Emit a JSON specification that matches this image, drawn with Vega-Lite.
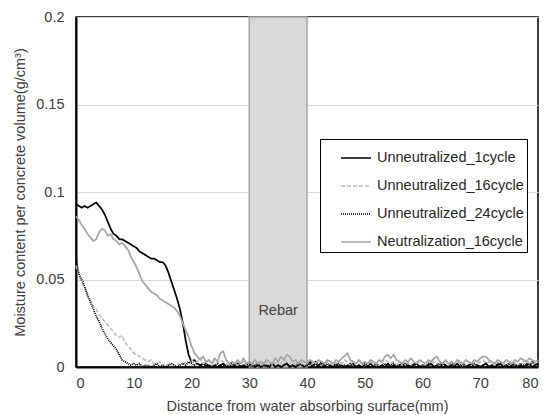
{
  "$schema": "https://vega.github.io/schema/vega-lite/v6.json",
  "width": 462,
  "height": 350,
  "autosize": "none",
  "padding": {"left": 76, "top": 17, "right": 9, "bottom": 48},
  "background": "#ffffff",
  "config": {
    "font": "Liberation Sans",
    "view": {"stroke": "#000000", "strokeWidth": 1.5},
    "axis": {
      "labelFont": "Liberation Sans", "labelFontSize": 14.5, "labelColor": "#404040",
      "titleFont": "Liberation Sans", "titleFontSize": 14.5, "titleFontWeight": "normal", "titleColor": "#404040",
      "ticks": false, "domainColor": "#000000", "domainWidth": 2,
      "gridColor": "#d9d9d9", "gridWidth": 1
    }
  },
  "encoding": {
    "x": {"field": "x", "type": "quantitative", "scale": {"domain": [0, 80], "nice": false},
      "axis": {"title": "Distance from water absorbing surface(mm)", "values": [0, 10, 20, 30, 40, 50, 60, 70, 80], "grid": false, "labelPadding": 9, "titlePadding": 10}},
    "y": {"field": "moisture", "type": "quantitative", "scale": {"domain": [0, 0.2], "nice": false},
      "axis": {"title": "Moisture content per concrete volume(g/cm³)", "values": [0, 0.05, 0.1, 0.15, 0.2], "format": "~g", "labelPadding": 12, "titlePadding": 8}}
  },
  "layer": [
    {
      "data": {"values": [{"x": 30, "x2": 40, "moisture": 0, "m2": 0.2}]},
      "mark": {"type": "rect", "fill": "#d9d9d9", "stroke": "#a6a6a6", "strokeWidth": 1.5},
      "encoding": {"x2": {"field": "x2"}, "y2": {"field": "m2"}}
    },
    {
      "data": {"values": [
        {"x":0,"Unneutralized_1cycle":0.093,"Unneutralized_16cycle":0.058,"Unneutralized_24cycle":0.062,"Neutralization_16cycle":0.086},
        {"x":0.5,"Unneutralized_1cycle":0.092,"Unneutralized_16cycle":0.052,"Unneutralized_24cycle":0.053,"Neutralization_16cycle":0.084},
        {"x":1,"Unneutralized_1cycle":0.091,"Unneutralized_16cycle":0.048,"Unneutralized_24cycle":0.050,"Neutralization_16cycle":0.081},
        {"x":1.5,"Unneutralized_1cycle":0.092,"Unneutralized_16cycle":0.045,"Unneutralized_24cycle":0.046,"Neutralization_16cycle":0.079},
        {"x":2,"Unneutralized_1cycle":0.091,"Unneutralized_16cycle":0.041,"Unneutralized_24cycle":0.041,"Neutralization_16cycle":0.076},
        {"x":2.5,"Unneutralized_1cycle":0.092,"Unneutralized_16cycle":0.038,"Unneutralized_24cycle":0.037,"Neutralization_16cycle":0.074},
        {"x":3,"Unneutralized_1cycle":0.093,"Unneutralized_16cycle":0.035,"Unneutralized_24cycle":0.033,"Neutralization_16cycle":0.072},
        {"x":3.5,"Unneutralized_1cycle":0.094,"Unneutralized_16cycle":0.033,"Unneutralized_24cycle":0.029,"Neutralization_16cycle":0.073},
        {"x":4,"Unneutralized_1cycle":0.092,"Unneutralized_16cycle":0.030,"Unneutralized_24cycle":0.026,"Neutralization_16cycle":0.077},
        {"x":4.5,"Unneutralized_1cycle":0.090,"Unneutralized_16cycle":0.028,"Unneutralized_24cycle":0.022,"Neutralization_16cycle":0.079},
        {"x":5,"Unneutralized_1cycle":0.087,"Unneutralized_16cycle":0.026,"Unneutralized_24cycle":0.019,"Neutralization_16cycle":0.078},
        {"x":5.5,"Unneutralized_1cycle":0.083,"Unneutralized_16cycle":0.024,"Unneutralized_24cycle":0.016,"Neutralization_16cycle":0.075},
        {"x":6,"Unneutralized_1cycle":0.079,"Unneutralized_16cycle":0.022,"Unneutralized_24cycle":0.014,"Neutralization_16cycle":0.076},
        {"x":6.5,"Unneutralized_1cycle":0.076,"Unneutralized_16cycle":0.020,"Unneutralized_24cycle":0.012,"Neutralization_16cycle":0.073},
        {"x":7,"Unneutralized_1cycle":0.075,"Unneutralized_16cycle":0.018,"Unneutralized_24cycle":0.010,"Neutralization_16cycle":0.072},
        {"x":7.5,"Unneutralized_1cycle":0.073,"Unneutralized_16cycle":0.017,"Unneutralized_24cycle":0.007,"Neutralization_16cycle":0.070},
        {"x":8,"Unneutralized_1cycle":0.073,"Unneutralized_16cycle":0.018,"Unneutralized_24cycle":0.004,"Neutralization_16cycle":0.071},
        {"x":8.5,"Unneutralized_1cycle":0.072,"Unneutralized_16cycle":0.014,"Unneutralized_24cycle":0.003,"Neutralization_16cycle":0.069},
        {"x":9,"Unneutralized_1cycle":0.071,"Unneutralized_16cycle":0.012,"Unneutralized_24cycle":0.002,"Neutralization_16cycle":0.067},
        {"x":9.5,"Unneutralized_1cycle":0.070,"Unneutralized_16cycle":0.010,"Unneutralized_24cycle":0.001,"Neutralization_16cycle":0.063},
        {"x":10,"Unneutralized_1cycle":0.069,"Unneutralized_16cycle":0.008,"Unneutralized_24cycle":0.002,"Neutralization_16cycle":0.060},
        {"x":10.5,"Unneutralized_1cycle":0.068,"Unneutralized_16cycle":0.007,"Unneutralized_24cycle":0.001,"Neutralization_16cycle":0.057},
        {"x":11,"Unneutralized_1cycle":0.066,"Unneutralized_16cycle":0.006,"Unneutralized_24cycle":0.002,"Neutralization_16cycle":0.053},
        {"x":11.5,"Unneutralized_1cycle":0.065,"Unneutralized_16cycle":0.005,"Unneutralized_24cycle":0.000,"Neutralization_16cycle":0.049},
        {"x":12,"Unneutralized_1cycle":0.064,"Unneutralized_16cycle":0.004,"Unneutralized_24cycle":0.001,"Neutralization_16cycle":0.047},
        {"x":12.5,"Unneutralized_1cycle":0.063,"Unneutralized_16cycle":0.003,"Unneutralized_24cycle":0.001,"Neutralization_16cycle":0.045},
        {"x":13,"Unneutralized_1cycle":0.062,"Unneutralized_16cycle":0.004,"Unneutralized_24cycle":0.000,"Neutralization_16cycle":0.043},
        {"x":13.5,"Unneutralized_1cycle":0.062,"Unneutralized_16cycle":0.002,"Unneutralized_24cycle":0.001,"Neutralization_16cycle":0.042},
        {"x":14,"Unneutralized_1cycle":0.061,"Unneutralized_16cycle":0.002,"Unneutralized_24cycle":0.002,"Neutralization_16cycle":0.041},
        {"x":14.5,"Unneutralized_1cycle":0.060,"Unneutralized_16cycle":0.003,"Unneutralized_24cycle":0.000,"Neutralization_16cycle":0.039},
        {"x":15,"Unneutralized_1cycle":0.060,"Unneutralized_16cycle":0.001,"Unneutralized_24cycle":0.001,"Neutralization_16cycle":0.038},
        {"x":15.5,"Unneutralized_1cycle":0.058,"Unneutralized_16cycle":0.002,"Unneutralized_24cycle":0.000,"Neutralization_16cycle":0.037},
        {"x":16,"Unneutralized_1cycle":0.054,"Unneutralized_16cycle":0.001,"Unneutralized_24cycle":0.001,"Neutralization_16cycle":0.036},
        {"x":16.5,"Unneutralized_1cycle":0.049,"Unneutralized_16cycle":0.002,"Unneutralized_24cycle":0.002,"Neutralization_16cycle":0.035},
        {"x":17,"Unneutralized_1cycle":0.044,"Unneutralized_16cycle":0.001,"Unneutralized_24cycle":0.001,"Neutralization_16cycle":0.034},
        {"x":17.5,"Unneutralized_1cycle":0.039,"Unneutralized_16cycle":0.002,"Unneutralized_24cycle":0.000,"Neutralization_16cycle":0.032},
        {"x":18,"Unneutralized_1cycle":0.033,"Unneutralized_16cycle":0.001,"Unneutralized_24cycle":0.001,"Neutralization_16cycle":0.029},
        {"x":18.5,"Unneutralized_1cycle":0.025,"Unneutralized_16cycle":0.002,"Unneutralized_24cycle":0.002,"Neutralization_16cycle":0.025},
        {"x":19,"Unneutralized_1cycle":0.015,"Unneutralized_16cycle":0.003,"Unneutralized_24cycle":0.001,"Neutralization_16cycle":0.021},
        {"x":19.5,"Unneutralized_1cycle":0.007,"Unneutralized_16cycle":0.002,"Unneutralized_24cycle":0.003,"Neutralization_16cycle":0.017},
        {"x":20,"Unneutralized_1cycle":0.003,"Unneutralized_16cycle":0.004,"Unneutralized_24cycle":0.002,"Neutralization_16cycle":0.012},
        {"x":20.5,"Unneutralized_1cycle":0.004,"Unneutralized_16cycle":0.002,"Unneutralized_24cycle":0.001,"Neutralization_16cycle":0.008},
        {"x":21,"Unneutralized_1cycle":0.002,"Unneutralized_16cycle":0.003,"Unneutralized_24cycle":0.002,"Neutralization_16cycle":0.006},
        {"x":21.5,"Unneutralized_1cycle":0.001,"Unneutralized_16cycle":0.005,"Unneutralized_24cycle":0.001,"Neutralization_16cycle":0.004},
        {"x":22,"Unneutralized_1cycle":0.002,"Unneutralized_16cycle":0.002,"Unneutralized_24cycle":0.000,"Neutralization_16cycle":0.006},
        {"x":22.5,"Unneutralized_1cycle":0.001,"Unneutralized_16cycle":0.003,"Unneutralized_24cycle":0.002,"Neutralization_16cycle":0.003},
        {"x":23,"Unneutralized_1cycle":0.001,"Unneutralized_16cycle":0.004,"Unneutralized_24cycle":0.001,"Neutralization_16cycle":0.004},
        {"x":23.5,"Unneutralized_1cycle":0.000,"Unneutralized_16cycle":0.002,"Unneutralized_24cycle":0.000,"Neutralization_16cycle":0.002},
        {"x":24,"Unneutralized_1cycle":0.001,"Unneutralized_16cycle":0.003,"Unneutralized_24cycle":0.001,"Neutralization_16cycle":0.005},
        {"x":24.5,"Unneutralized_1cycle":0.000,"Unneutralized_16cycle":0.002,"Unneutralized_24cycle":0.002,"Neutralization_16cycle":0.003},
        {"x":25,"Unneutralized_1cycle":0.001,"Unneutralized_16cycle":0.004,"Unneutralized_24cycle":0.000,"Neutralization_16cycle":0.008},
        {"x":25.5,"Unneutralized_1cycle":0.002,"Unneutralized_16cycle":0.003,"Unneutralized_24cycle":0.001,"Neutralization_16cycle":0.009},
        {"x":26,"Unneutralized_1cycle":0.000,"Unneutralized_16cycle":0.002,"Unneutralized_24cycle":0.001,"Neutralization_16cycle":0.004},
        {"x":26.5,"Unneutralized_1cycle":0.001,"Unneutralized_16cycle":0.001,"Unneutralized_24cycle":0.000,"Neutralization_16cycle":0.002},
        {"x":27,"Unneutralized_1cycle":0.000,"Unneutralized_16cycle":0.003,"Unneutralized_24cycle":0.002,"Neutralization_16cycle":0.003},
        {"x":27.5,"Unneutralized_1cycle":0.001,"Unneutralized_16cycle":0.002,"Unneutralized_24cycle":0.001,"Neutralization_16cycle":0.002},
        {"x":28,"Unneutralized_1cycle":0.002,"Unneutralized_16cycle":0.001,"Unneutralized_24cycle":0.000,"Neutralization_16cycle":0.004},
        {"x":28.5,"Unneutralized_1cycle":0.000,"Unneutralized_16cycle":0.002,"Unneutralized_24cycle":0.001,"Neutralization_16cycle":0.002},
        {"x":29,"Unneutralized_1cycle":0.001,"Unneutralized_16cycle":0.003,"Unneutralized_24cycle":0.000,"Neutralization_16cycle":0.005},
        {"x":29.5,"Unneutralized_1cycle":0.000,"Unneutralized_16cycle":0.002,"Unneutralized_24cycle":0.002,"Neutralization_16cycle":0.002},
        {"x":30,"Unneutralized_1cycle":0.001,"Unneutralized_16cycle":0.001,"Unneutralized_24cycle":0.001,"Neutralization_16cycle":0.003},
        {"x":30.5,"Unneutralized_1cycle":0.002,"Unneutralized_16cycle":0.002,"Unneutralized_24cycle":0.000,"Neutralization_16cycle":0.002},
        {"x":31,"Unneutralized_1cycle":0.000,"Unneutralized_16cycle":0.001,"Unneutralized_24cycle":0.001,"Neutralization_16cycle":0.004},
        {"x":31.5,"Unneutralized_1cycle":0.001,"Unneutralized_16cycle":0.003,"Unneutralized_24cycle":0.002,"Neutralization_16cycle":0.002},
        {"x":32,"Unneutralized_1cycle":0.000,"Unneutralized_16cycle":0.002,"Unneutralized_24cycle":0.000,"Neutralization_16cycle":0.003},
        {"x":32.5,"Unneutralized_1cycle":0.001,"Unneutralized_16cycle":0.001,"Unneutralized_24cycle":0.001,"Neutralization_16cycle":0.002},
        {"x":33,"Unneutralized_1cycle":0.001,"Unneutralized_16cycle":0.002,"Unneutralized_24cycle":0.000,"Neutralization_16cycle":0.004},
        {"x":33.5,"Unneutralized_1cycle":0.000,"Unneutralized_16cycle":0.003,"Unneutralized_24cycle":0.001,"Neutralization_16cycle":0.003},
        {"x":34,"Unneutralized_1cycle":0.002,"Unneutralized_16cycle":0.001,"Unneutralized_24cycle":0.002,"Neutralization_16cycle":0.002},
        {"x":34.5,"Unneutralized_1cycle":0.000,"Unneutralized_16cycle":0.002,"Unneutralized_24cycle":0.000,"Neutralization_16cycle":0.005},
        {"x":35,"Unneutralized_1cycle":0.001,"Unneutralized_16cycle":0.003,"Unneutralized_24cycle":0.001,"Neutralization_16cycle":0.003},
        {"x":35.5,"Unneutralized_1cycle":0.000,"Unneutralized_16cycle":0.002,"Unneutralized_24cycle":0.000,"Neutralization_16cycle":0.006},
        {"x":36,"Unneutralized_1cycle":0.001,"Unneutralized_16cycle":0.004,"Unneutralized_24cycle":0.001,"Neutralization_16cycle":0.004},
        {"x":36.5,"Unneutralized_1cycle":0.002,"Unneutralized_16cycle":0.003,"Unneutralized_24cycle":0.002,"Neutralization_16cycle":0.007},
        {"x":37,"Unneutralized_1cycle":0.000,"Unneutralized_16cycle":0.002,"Unneutralized_24cycle":0.000,"Neutralization_16cycle":0.006},
        {"x":37.5,"Unneutralized_1cycle":0.001,"Unneutralized_16cycle":0.001,"Unneutralized_24cycle":0.001,"Neutralization_16cycle":0.003},
        {"x":38,"Unneutralized_1cycle":0.000,"Unneutralized_16cycle":0.002,"Unneutralized_24cycle":0.000,"Neutralization_16cycle":0.004},
        {"x":38.5,"Unneutralized_1cycle":0.001,"Unneutralized_16cycle":0.003,"Unneutralized_24cycle":0.002,"Neutralization_16cycle":0.002},
        {"x":39,"Unneutralized_1cycle":0.002,"Unneutralized_16cycle":0.002,"Unneutralized_24cycle":0.001,"Neutralization_16cycle":0.004},
        {"x":39.5,"Unneutralized_1cycle":0.000,"Unneutralized_16cycle":0.001,"Unneutralized_24cycle":0.000,"Neutralization_16cycle":0.003},
        {"x":40,"Unneutralized_1cycle":0.001,"Unneutralized_16cycle":0.002,"Unneutralized_24cycle":0.001,"Neutralization_16cycle":0.002},
        {"x":40.5,"Unneutralized_1cycle":0.003,"Unneutralized_16cycle":0.001,"Unneutralized_24cycle":0.002,"Neutralization_16cycle":0.004},
        {"x":41,"Unneutralized_1cycle":0.001,"Unneutralized_16cycle":0.002,"Unneutralized_24cycle":0.000,"Neutralization_16cycle":0.003},
        {"x":41.5,"Unneutralized_1cycle":0.002,"Unneutralized_16cycle":0.003,"Unneutralized_24cycle":0.003,"Neutralization_16cycle":0.002},
        {"x":42,"Unneutralized_1cycle":0.000,"Unneutralized_16cycle":0.002,"Unneutralized_24cycle":0.001,"Neutralization_16cycle":0.004},
        {"x":42.5,"Unneutralized_1cycle":0.003,"Unneutralized_16cycle":0.001,"Unneutralized_24cycle":0.002,"Neutralization_16cycle":0.003},
        {"x":43,"Unneutralized_1cycle":0.001,"Unneutralized_16cycle":0.002,"Unneutralized_24cycle":0.000,"Neutralization_16cycle":0.002},
        {"x":43.5,"Unneutralized_1cycle":0.000,"Unneutralized_16cycle":0.003,"Unneutralized_24cycle":0.002,"Neutralization_16cycle":0.004},
        {"x":44,"Unneutralized_1cycle":0.001,"Unneutralized_16cycle":0.002,"Unneutralized_24cycle":0.001,"Neutralization_16cycle":0.003},
        {"x":44.5,"Unneutralized_1cycle":0.000,"Unneutralized_16cycle":0.001,"Unneutralized_24cycle":0.000,"Neutralization_16cycle":0.002},
        {"x":45,"Unneutralized_1cycle":0.002,"Unneutralized_16cycle":0.002,"Unneutralized_24cycle":0.001,"Neutralization_16cycle":0.004},
        {"x":45.5,"Unneutralized_1cycle":0.000,"Unneutralized_16cycle":0.003,"Unneutralized_24cycle":0.002,"Neutralization_16cycle":0.003},
        {"x":46,"Unneutralized_1cycle":0.001,"Unneutralized_16cycle":0.002,"Unneutralized_24cycle":0.000,"Neutralization_16cycle":0.005},
        {"x":46.5,"Unneutralized_1cycle":0.000,"Unneutralized_16cycle":0.004,"Unneutralized_24cycle":0.001,"Neutralization_16cycle":0.006},
        {"x":47,"Unneutralized_1cycle":0.001,"Unneutralized_16cycle":0.003,"Unneutralized_24cycle":0.000,"Neutralization_16cycle":0.008},
        {"x":47.5,"Unneutralized_1cycle":0.000,"Unneutralized_16cycle":0.002,"Unneutralized_24cycle":0.002,"Neutralization_16cycle":0.004},
        {"x":48,"Unneutralized_1cycle":0.002,"Unneutralized_16cycle":0.001,"Unneutralized_24cycle":0.001,"Neutralization_16cycle":0.003},
        {"x":48.5,"Unneutralized_1cycle":0.000,"Unneutralized_16cycle":0.002,"Unneutralized_24cycle":0.000,"Neutralization_16cycle":0.002},
        {"x":49,"Unneutralized_1cycle":0.001,"Unneutralized_16cycle":0.003,"Unneutralized_24cycle":0.001,"Neutralization_16cycle":0.004},
        {"x":49.5,"Unneutralized_1cycle":0.000,"Unneutralized_16cycle":0.002,"Unneutralized_24cycle":0.000,"Neutralization_16cycle":0.002},
        {"x":50,"Unneutralized_1cycle":0.001,"Unneutralized_16cycle":0.001,"Unneutralized_24cycle":0.002,"Neutralization_16cycle":0.003},
        {"x":50.5,"Unneutralized_1cycle":0.000,"Unneutralized_16cycle":0.002,"Unneutralized_24cycle":0.001,"Neutralization_16cycle":0.002},
        {"x":51,"Unneutralized_1cycle":0.002,"Unneutralized_16cycle":0.003,"Unneutralized_24cycle":0.000,"Neutralization_16cycle":0.004},
        {"x":51.5,"Unneutralized_1cycle":0.000,"Unneutralized_16cycle":0.002,"Unneutralized_24cycle":0.001,"Neutralization_16cycle":0.003},
        {"x":52,"Unneutralized_1cycle":0.001,"Unneutralized_16cycle":0.001,"Unneutralized_24cycle":0.002,"Neutralization_16cycle":0.002},
        {"x":52.5,"Unneutralized_1cycle":0.000,"Unneutralized_16cycle":0.002,"Unneutralized_24cycle":0.000,"Neutralization_16cycle":0.004},
        {"x":53,"Unneutralized_1cycle":0.001,"Unneutralized_16cycle":0.003,"Unneutralized_24cycle":0.001,"Neutralization_16cycle":0.003},
        {"x":53.5,"Unneutralized_1cycle":0.000,"Unneutralized_16cycle":0.004,"Unneutralized_24cycle":0.002,"Neutralization_16cycle":0.006},
        {"x":54,"Unneutralized_1cycle":0.002,"Unneutralized_16cycle":0.003,"Unneutralized_24cycle":0.000,"Neutralization_16cycle":0.007},
        {"x":54.5,"Unneutralized_1cycle":0.000,"Unneutralized_16cycle":0.002,"Unneutralized_24cycle":0.001,"Neutralization_16cycle":0.005},
        {"x":55,"Unneutralized_1cycle":0.001,"Unneutralized_16cycle":0.003,"Unneutralized_24cycle":0.002,"Neutralization_16cycle":0.007},
        {"x":55.5,"Unneutralized_1cycle":0.000,"Unneutralized_16cycle":0.002,"Unneutralized_24cycle":0.000,"Neutralization_16cycle":0.004},
        {"x":56,"Unneutralized_1cycle":0.001,"Unneutralized_16cycle":0.001,"Unneutralized_24cycle":0.001,"Neutralization_16cycle":0.003},
        {"x":56.5,"Unneutralized_1cycle":0.002,"Unneutralized_16cycle":0.002,"Unneutralized_24cycle":0.000,"Neutralization_16cycle":0.002},
        {"x":57,"Unneutralized_1cycle":0.000,"Unneutralized_16cycle":0.003,"Unneutralized_24cycle":0.002,"Neutralization_16cycle":0.004},
        {"x":57.5,"Unneutralized_1cycle":0.001,"Unneutralized_16cycle":0.002,"Unneutralized_24cycle":0.001,"Neutralization_16cycle":0.003},
        {"x":58,"Unneutralized_1cycle":0.000,"Unneutralized_16cycle":0.001,"Unneutralized_24cycle":0.000,"Neutralization_16cycle":0.005},
        {"x":58.5,"Unneutralized_1cycle":0.001,"Unneutralized_16cycle":0.002,"Unneutralized_24cycle":0.002,"Neutralization_16cycle":0.003},
        {"x":59,"Unneutralized_1cycle":0.002,"Unneutralized_16cycle":0.003,"Unneutralized_24cycle":0.001,"Neutralization_16cycle":0.002},
        {"x":59.5,"Unneutralized_1cycle":0.000,"Unneutralized_16cycle":0.002,"Unneutralized_24cycle":0.000,"Neutralization_16cycle":0.004},
        {"x":60,"Unneutralized_1cycle":0.001,"Unneutralized_16cycle":0.001,"Unneutralized_24cycle":0.001,"Neutralization_16cycle":0.003},
        {"x":60.5,"Unneutralized_1cycle":0.000,"Unneutralized_16cycle":0.002,"Unneutralized_24cycle":0.000,"Neutralization_16cycle":0.002},
        {"x":61,"Unneutralized_1cycle":0.001,"Unneutralized_16cycle":0.003,"Unneutralized_24cycle":0.002,"Neutralization_16cycle":0.004},
        {"x":61.5,"Unneutralized_1cycle":0.002,"Unneutralized_16cycle":0.002,"Unneutralized_24cycle":0.001,"Neutralization_16cycle":0.003},
        {"x":62,"Unneutralized_1cycle":0.000,"Unneutralized_16cycle":0.003,"Unneutralized_24cycle":0.000,"Neutralization_16cycle":0.005},
        {"x":62.5,"Unneutralized_1cycle":0.001,"Unneutralized_16cycle":0.002,"Unneutralized_24cycle":0.001,"Neutralization_16cycle":0.006},
        {"x":63,"Unneutralized_1cycle":0.000,"Unneutralized_16cycle":0.001,"Unneutralized_24cycle":0.002,"Neutralization_16cycle":0.003},
        {"x":63.5,"Unneutralized_1cycle":0.002,"Unneutralized_16cycle":0.002,"Unneutralized_24cycle":0.000,"Neutralization_16cycle":0.002},
        {"x":64,"Unneutralized_1cycle":0.001,"Unneutralized_16cycle":0.003,"Unneutralized_24cycle":0.001,"Neutralization_16cycle":0.004},
        {"x":64.5,"Unneutralized_1cycle":0.000,"Unneutralized_16cycle":0.002,"Unneutralized_24cycle":0.000,"Neutralization_16cycle":0.002},
        {"x":65,"Unneutralized_1cycle":0.001,"Unneutralized_16cycle":0.001,"Unneutralized_24cycle":0.002,"Neutralization_16cycle":0.003},
        {"x":65.5,"Unneutralized_1cycle":0.000,"Unneutralized_16cycle":0.002,"Unneutralized_24cycle":0.001,"Neutralization_16cycle":0.002},
        {"x":66,"Unneutralized_1cycle":0.002,"Unneutralized_16cycle":0.003,"Unneutralized_24cycle":0.000,"Neutralization_16cycle":0.004},
        {"x":66.5,"Unneutralized_1cycle":0.000,"Unneutralized_16cycle":0.002,"Unneutralized_24cycle":0.001,"Neutralization_16cycle":0.003},
        {"x":67,"Unneutralized_1cycle":0.001,"Unneutralized_16cycle":0.001,"Unneutralized_24cycle":0.002,"Neutralization_16cycle":0.002},
        {"x":67.5,"Unneutralized_1cycle":0.000,"Unneutralized_16cycle":0.002,"Unneutralized_24cycle":0.000,"Neutralization_16cycle":0.004},
        {"x":68,"Unneutralized_1cycle":0.001,"Unneutralized_16cycle":0.003,"Unneutralized_24cycle":0.001,"Neutralization_16cycle":0.003},
        {"x":68.5,"Unneutralized_1cycle":0.002,"Unneutralized_16cycle":0.002,"Unneutralized_24cycle":0.000,"Neutralization_16cycle":0.002},
        {"x":69,"Unneutralized_1cycle":0.000,"Unneutralized_16cycle":0.001,"Unneutralized_24cycle":0.002,"Neutralization_16cycle":0.004},
        {"x":69.5,"Unneutralized_1cycle":0.001,"Unneutralized_16cycle":0.002,"Unneutralized_24cycle":0.001,"Neutralization_16cycle":0.003},
        {"x":70,"Unneutralized_1cycle":0.000,"Unneutralized_16cycle":0.003,"Unneutralized_24cycle":0.000,"Neutralization_16cycle":0.005},
        {"x":70.5,"Unneutralized_1cycle":0.001,"Unneutralized_16cycle":0.004,"Unneutralized_24cycle":0.001,"Neutralization_16cycle":0.006},
        {"x":71,"Unneutralized_1cycle":0.002,"Unneutralized_16cycle":0.002,"Unneutralized_24cycle":0.002,"Neutralization_16cycle":0.006},
        {"x":71.5,"Unneutralized_1cycle":0.000,"Unneutralized_16cycle":0.003,"Unneutralized_24cycle":0.000,"Neutralization_16cycle":0.004},
        {"x":72,"Unneutralized_1cycle":0.001,"Unneutralized_16cycle":0.002,"Unneutralized_24cycle":0.001,"Neutralization_16cycle":0.003},
        {"x":72.5,"Unneutralized_1cycle":0.000,"Unneutralized_16cycle":0.001,"Unneutralized_24cycle":0.000,"Neutralization_16cycle":0.002},
        {"x":73,"Unneutralized_1cycle":0.001,"Unneutralized_16cycle":0.002,"Unneutralized_24cycle":0.002,"Neutralization_16cycle":0.004},
        {"x":73.5,"Unneutralized_1cycle":0.002,"Unneutralized_16cycle":0.003,"Unneutralized_24cycle":0.001,"Neutralization_16cycle":0.003},
        {"x":74,"Unneutralized_1cycle":0.000,"Unneutralized_16cycle":0.002,"Unneutralized_24cycle":0.000,"Neutralization_16cycle":0.002},
        {"x":74.5,"Unneutralized_1cycle":0.001,"Unneutralized_16cycle":0.001,"Unneutralized_24cycle":0.001,"Neutralization_16cycle":0.004},
        {"x":75,"Unneutralized_1cycle":0.000,"Unneutralized_16cycle":0.002,"Unneutralized_24cycle":0.002,"Neutralization_16cycle":0.003},
        {"x":75.5,"Unneutralized_1cycle":0.001,"Unneutralized_16cycle":0.003,"Unneutralized_24cycle":0.000,"Neutralization_16cycle":0.002},
        {"x":76,"Unneutralized_1cycle":0.002,"Unneutralized_16cycle":0.002,"Unneutralized_24cycle":0.001,"Neutralization_16cycle":0.004},
        {"x":76.5,"Unneutralized_1cycle":0.000,"Unneutralized_16cycle":0.001,"Unneutralized_24cycle":0.000,"Neutralization_16cycle":0.003},
        {"x":77,"Unneutralized_1cycle":0.001,"Unneutralized_16cycle":0.002,"Unneutralized_24cycle":0.002,"Neutralization_16cycle":0.005},
        {"x":77.5,"Unneutralized_1cycle":0.000,"Unneutralized_16cycle":0.003,"Unneutralized_24cycle":0.001,"Neutralization_16cycle":0.004},
        {"x":78,"Unneutralized_1cycle":0.001,"Unneutralized_16cycle":0.004,"Unneutralized_24cycle":0.002,"Neutralization_16cycle":0.003},
        {"x":78.5,"Unneutralized_1cycle":0.002,"Unneutralized_16cycle":0.002,"Unneutralized_24cycle":0.000,"Neutralization_16cycle":0.005},
        {"x":79,"Unneutralized_1cycle":0.000,"Unneutralized_16cycle":0.003,"Unneutralized_24cycle":0.003,"Neutralization_16cycle":0.004},
        {"x":79.5,"Unneutralized_1cycle":0.001,"Unneutralized_16cycle":0.002,"Unneutralized_24cycle":0.001,"Neutralization_16cycle":0.003},
        {"x":80,"Unneutralized_1cycle":0.002,"Unneutralized_16cycle":0.003,"Unneutralized_24cycle":0.002,"Neutralization_16cycle":0.004}
      ]},
      "transform": [{"fold": ["Unneutralized_1cycle", "Unneutralized_16cycle", "Unneutralized_24cycle", "Neutralization_16cycle"], "as": ["series", "moisture"]}],
      "mark": {"type": "line", "strokeWidth": 1.75, "strokeJoin": "round"},
      "encoding": {
        "color": {"field": "series", "type": "nominal",
          "scale": {"domain": ["Unneutralized_1cycle", "Unneutralized_16cycle", "Unneutralized_24cycle", "Neutralization_16cycle"], "range": ["#000000", "#bfbfbf", "#000000", "#a6a6a6"]},
          "legend": {"title": null, "orient": "none", "legendX": 244, "legendY": 122, "strokeColor": "#000000", "fillColor": "#ffffff", "padding": 3, "symbolOffset": 17, "symbolType": "stroke", "symbolSize": 900, "symbolStrokeWidth": 1.5, "labelFont": "Liberation Sans", "labelFontSize": 14.5, "labelColor": "#262626", "labelOffset": 5, "rowPadding": 5}},
        "strokeDash": {"field": "series", "type": "nominal",
          "scale": {"domain": ["Unneutralized_1cycle", "Unneutralized_16cycle", "Unneutralized_24cycle", "Neutralization_16cycle"], "range": [[1, 0], [4, 2], [1, 1], [1, 0]]},
          "legend": {"title": null, "orient": "none", "legendX": 244, "legendY": 122, "strokeColor": "#000000", "fillColor": "#ffffff", "padding": 3, "symbolOffset": 17, "symbolType": "stroke", "symbolSize": 900, "symbolStrokeWidth": 1.5, "labelFont": "Liberation Sans", "labelFontSize": 14.5, "labelColor": "#262626", "labelOffset": 5, "rowPadding": 5}}
      }
    },
    {
      "data": {"values": [{"x": 35, "moisture": 0.032, "label": "Rebar"}]},
      "mark": {"type": "text", "font": "Liberation Sans", "fontSize": 14.5, "color": "#404040"},
      "encoding": {"text": {"field": "label"}}
    }
  ]
}
